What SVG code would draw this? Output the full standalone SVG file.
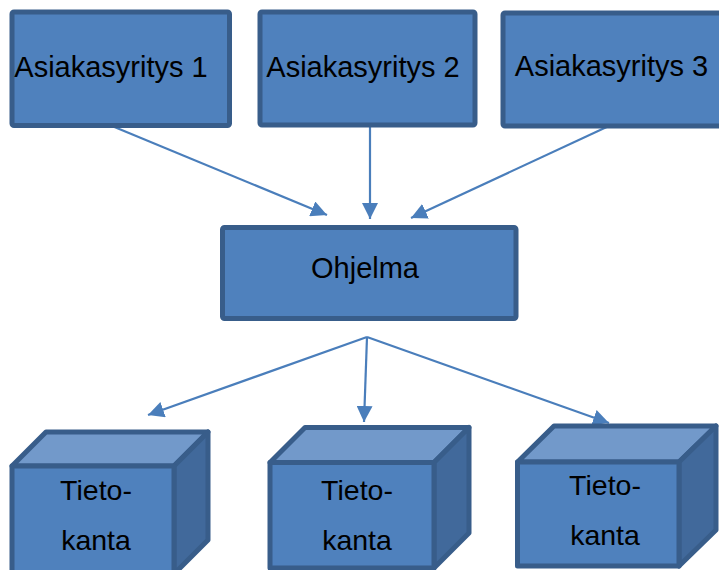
<svg xmlns="http://www.w3.org/2000/svg" width="719" height="570" viewBox="0 0 719 570">
<style>
.box{fill:#4F81BD;stroke:#385D8A;stroke-width:5;stroke-linejoin:round}
.top{fill:#7299CA;stroke:#385D8A;stroke-width:5;stroke-linejoin:round}
.side{fill:#41699B;stroke:#385D8A;stroke-width:5;stroke-linejoin:round}
.t{font-family:"Liberation Sans",Arial,sans-serif;font-size:29px;fill:#000;text-anchor:middle}
.c{font-family:"Liberation Sans",Arial,sans-serif;font-size:28.5px;fill:#000;text-anchor:middle}
.con{stroke:#4A7EBB;stroke-width:2.2;fill:none;marker-end:url(#ah)}
</style>
<defs>
<marker id="ah" markerUnits="userSpaceOnUse" viewBox="0 0 16 16" refX="16" refY="8" markerWidth="16" markerHeight="16" orient="auto">
<path d="M0,0 L16,8 L0,16 Z" fill="#4A7EBB"/>
</marker>
</defs>
<rect width="719" height="570" fill="#fff"/>
<g id="connectors">
<line class="con" x1="112" y1="126" x2="327" y2="215"/>
<line class="con" x1="370" y1="126" x2="370" y2="219"/>
<line class="con" x1="611" y1="125" x2="411" y2="218"/>
<line class="con" x1="367" y1="337" x2="148" y2="415"/>
<line class="con" x1="367" y1="337" x2="364" y2="422"/>
<line class="con" x1="367" y1="337" x2="609" y2="423"/>
</g>
<g id="asiakas1">
<rect class="box" x="12" y="12" width="217.5" height="113.5" rx="2"/>
<text class="t" x="111" y="77">Asiakasyritys 1</text>
</g>
<g id="asiakas2">
<rect class="box" x="260" y="12" width="215" height="113" rx="2"/>
<text class="t" x="363" y="77">Asiakasyritys 2</text>
</g>
<g id="asiakas3">
<rect class="box" x="503" y="13" width="225" height="113" rx="2"/>
<text class="t" x="611.5" y="76">Asiakasyritys 3</text>
</g>
<g id="ohjelma">
<rect class="box" x="222.5" y="227.5" width="293.5" height="91" rx="2"/>
<text class="t" x="365" y="278">Ohjelma</text>
</g>
<g id="tietokanta1">
<polygon class="top" points="12,466 46,432 208,432 174,466"/>
<polygon class="side" points="174,466 208,432 208,540 174,574"/>
<rect class="box" x="12" y="466" width="162" height="108"/>
<text class="c" x="96" y="500">Tieto-</text>
<text class="c" x="96" y="550">kanta</text>
</g>
<g id="tietokanta2">
<polygon class="top" points="270,462.5 305,427.5 469,427.5 434,462.5"/>
<polygon class="side" points="434,462.5 469,427.5 469,533 434,568"/>
<rect class="box" x="270" y="462.5" width="164" height="105.5"/>
<text class="c" x="357" y="500">Tieto-</text>
<text class="c" x="357" y="550">kanta</text>
</g>
<g id="tietokanta3">
<polygon class="top" points="517.5,462 554,426 716,426 679,462"/>
<polygon class="side" points="679,462 716,426 716,530 679,566"/>
<rect class="box" x="517.5" y="462" width="161.5" height="104"/>
<text class="c" x="605" y="495">Tieto-</text>
<text class="c" x="605" y="545">kanta</text>
</g>
</svg>
